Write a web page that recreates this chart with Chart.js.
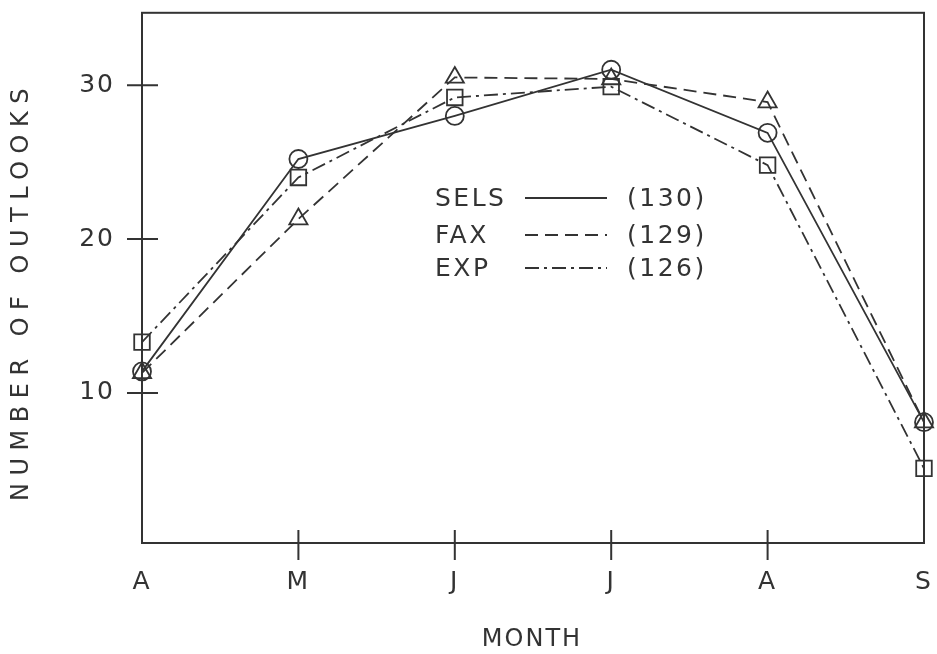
<!DOCTYPE html>
<html>
<head>
<meta charset="utf-8">
<script src="https://cdn.jsdelivr.net/npm/chart.js"></script>
<style>
  html, body { margin: 0; padding: 0; background: #fff; }
</style>
</head>
<body>
<canvas id="myChart" width="937" height="654"></canvas>
<script>
// data
const months = ['A', 'M', 'J', 'J', 'A', 'S'];
const sels = [11.4, 25.2, 28.0, 31.0, 26.9, 8.1];
const fax = [11.3, 21.3, 30.5, 30.4, 28.9, 8.1];
const exp = [13.3, 24.0, 29.2, 29.9, 24.8, 5.1];
const yTicks = [10, 20, 30];
const legendNames = ['SELS', 'FAX', 'EXP'];
const legendCounts = ['(130)', '(129)', '(126)'];

const ink = '#333';
const fontFamily = '"DejaVu Sans", sans-serif';

function noPadding(s) {
    s.paddingTop = 0;
    s.paddingBottom = 0;
    s.paddingLeft = 0;
    s.paddingRight = 0;
}

const framePlugin = {
    id: 'frame',
    beforeDraw(chart) {
        chart.ctx.letterSpacing = '2px';
    },
    beforeDatasetsDraw(chart) {
        const {ctx, chartArea: a, scales: {x, y}} = chart;
        ctx.save();
        ctx.strokeStyle = ink;
        ctx.lineWidth = 2;
        ctx.strokeRect(a.left, a.top, a.right - a.left, a.bottom - a.top);
        ctx.beginPath();
        yTicks.forEach(v => {
            const py = y.getPixelForValue(v);
            ctx.moveTo(a.left - 15, py);
            ctx.lineTo(a.left + 16, py);
        });
        months.forEach((m, i) => {
            if (i === 0 || i === months.length - 1) return;
            const px = x.getPixelForValue(i);
            ctx.moveTo(px, a.bottom - 13);
            ctx.lineTo(px, a.bottom + 17);
        });
        ctx.stroke();
        ctx.restore();
    },
    afterDraw(chart) {
        const {ctx} = chart;
        ctx.save();
        ctx.fillStyle = ink;
        ctx.textBaseline = 'middle';

        // axis titles
        ctx.font = '24px ' + fontFamily;
        ctx.letterSpacing = '2px';
        ctx.textAlign = 'center';
        ctx.fillText('MONTH', 532, 640);

        ctx.letterSpacing = '7.5px';
        ctx.translate(22, 291);
        ctx.rotate(-Math.PI / 2);
        ctx.fillText('NUMBER OF OUTLOOKS', 0, 0);
        ctx.setTransform(1, 0, 0, 1, 0, 0);

        // legend inside the plot
        const rowsY = [198, 235, 268];
        const dashes = [[], [13, 7], [14, 5, 3, 5]];
        ctx.font = '25px ' + fontFamily;
        ctx.letterSpacing = '2.5px';
        ctx.textAlign = 'left';
        ctx.strokeStyle = ink;
        ctx.lineWidth = 1.8;
        legendNames.forEach((name, i) => {
            const ry = rowsY[i];
            ctx.fillText(name, 435, ry + 1);
            ctx.setLineDash(dashes[i]);
            ctx.beginPath();
            ctx.moveTo(525, ry);
            ctx.lineTo(607, ry);
            ctx.stroke();
            ctx.setLineDash([]);
            ctx.fillText(legendCounts[i], 627, ry + 1);
        });
        ctx.restore();
    }
};

const common = {
    borderColor: ink,
    pointBorderColor: ink,
    backgroundColor: 'rgba(0,0,0,0)',
    pointBackgroundColor: 'rgba(0,0,0,0)',
    borderWidth: 1.8,
    pointBorderWidth: 1.8,
    tension: 0,
    fill: false,
    clip: false
};

const ctx = document.getElementById('myChart');
myChart = new Chart(ctx, {
    type: 'line',
    data: {
        labels: months,
        datasets: [
            Object.assign({label: 'SELS', data: sels, pointStyle: 'circle', pointRadius: 9, borderDash: []}, common),
            Object.assign({label: 'FAX', data: fax, pointStyle: 'triangle', pointRadius: 10.5, borderDash: [13, 7]}, common),
            Object.assign({label: 'EXP', data: exp, pointStyle: 'rect', pointRadius: 11, borderDash: [14, 5, 3, 5]}, common)
        ]
    },
    options: {
        responsive: false,
        animation: false,
        layout: { padding: { top: 12, right: 13, left: 0, bottom: 0 } },
        plugins: { legend: { display: false }, tooltip: { enabled: false } },
        scales: {
            x: {
                type: 'category',
                offset: false,
                grid: { display: false, drawTicks: false },
                border: { display: false },
                ticks: { color: ink, padding: 24, font: { family: fontFamily, size: 25 }, maxRotation: 0, autoSkip: false },
                afterFit(s) { s.height = 111; noPadding(s); }
            },
            y: {
                min: 0.25,
                max: 34.7,
                grid: { display: false, drawTicks: false },
                border: { display: false },
                afterBuildTicks(s) { s.ticks = yTicks.map(v => ({value: v})); },
                ticks: { color: ink, padding: 27, font: { family: fontFamily, size: 25 } },
                afterFit(s) { s.width = 142; noPadding(s); }
            }
        }
    },
    plugins: [framePlugin]
});
</script>
</body>
</html>
